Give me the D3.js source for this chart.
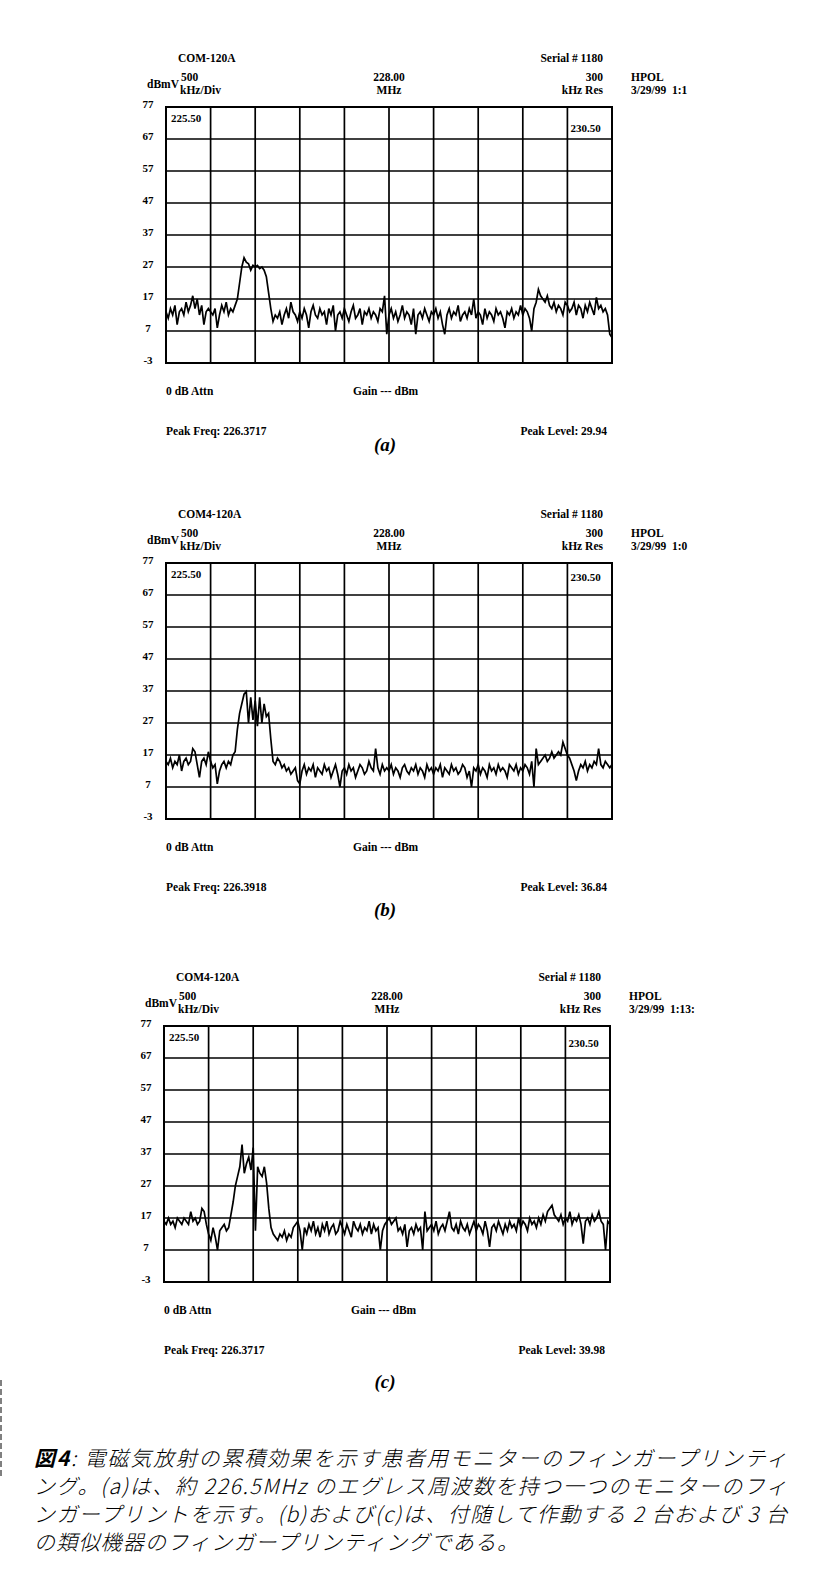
<!DOCTYPE html>
<html>
<head>
<meta charset="utf-8">
<script src="https://cdn.jsdelivr.net/npm/d3@7"></script>
<style>
  body { margin: 0; background: #fff; }
  svg { display: block; }
</style>
</head>
<body>
<svg id="fig"></svg>
<script>
// sweep settings (MHz) and level ticks (dBmV)
const freqStart = 225.5;
const freqStop = 230.5;
const freqDivs = d3.range(0, 11).map(k => freqStart + k * 0.5);
const levelTicks = [77, 67, 57, 47, 37, 27, 17, 7, -3];

// traces, 201 sweep points each
const traceA = [
  13,11,14,12,15,9,13,14,12,16,13,15,18,14,17,12,15,9,13,14,
  13,12,14,8,12,15,13,16,12,14,13,15,17,22,27,29.9,28.5,28,26,27.5,
  27,27.5,26.5,27,26,24,19,14,10,12,11,13,9,12,14,11,16,13,12,10,
  13,11,14,12,8,13,15,12,11,14,12,13,9,14,12,15,7,12,13,11,
  14,12,10,13,15,11,12,14,9,13,12,14,11,13,12,10,14,13,18,6,
  12,14,11,13,10,12,15,11,13,12,9,14,6,12,13,11,14,12,10,13,
  12,14,11,13,9,6,12,14,11,13,12,15,10,12,13,11,14,12,17,11,
  13,12,9,14,11,13,12,10,14,12,13,11,8,13,12,14,11,13,12,15,
  12,14,13,11,7,14,16,20,18,17,16,18,15,14,16,13,15,14,12,16,
  15,13,14,16,12,15,14,11,15,13,16,14,12,17.5,14,15,13,14,12,6,5
];
const traceB = [
  15,14,16,13,15,14,17,12,15,16,14,15,19,18,14,10,15,16,14,18,
  15,13,14,8,12,14,15,13,15,14,17,18,25,30,33,36,36.8,27,35,28,
  34,26,35,27,33,29,30,22,15,14,16,15,13,14,12,13,11,12,13,9,
  8,12,14,11,13,12,14,10,13,12,11,14,12,13,10,12,14,11,7,12,
  13,11,14,12,13,10,12,14,13,11,12,15,13,12,19,13,11,14,12,13,
  12,14,11,13,12,10,13,14,12,11,13,12,14,11,13,12,10,14,12,13,
  11,13,12,14,10,13,12,11,14,12,13,11,12,14,13,10,12,7,13,12,
  14,11,13,12,10,14,12,13,11,14,12,13,12,10,14,13,12,14,11,13,
  12,14,13,11,15,7,19,14,15,16,17,15,16,18,16,17,18,17,21,19,
  17,16,14,12,9,12,14,13,15,12,14,13,15,14,19,14,13,15,14,13,14
];
const traceC = [
  16,15,17,15,16,14,17,16,15,17,16,15,19,16,17,15,16,20,19,15,
  12,10,14,11,7,13,14,15,13,14,18,22,27,30,33,39.98,31,34,36,32,
  39,13,33,31,30,33,28,20,14,12,11,10,12,11,13,10,12,11,14,15,
  16,13,7,14,12,15,13,16,12,14,11,15,13,16,12,14,15,12,13,16,
  14,12,15,13,11,16,14,13,15,12,14,13,16,12,15,13,14,7,13,15,
  16,17,15,16,17,13,14,12,15,8,13,14,12,15,13,14,7,19,13,14,
  15,13,16,12,14,15,13,16,19,14,13,15,12,16,14,13,15,12,14,16,
  13,15,14,12,16,13,8,14,15,13,16,14,12,15,13,16,14,15,13,17,
  14,16,15,13,17,15,16,14,17,15,18,16,19,20,21,18,17,16,18,15,
  17,16,19,15,17,16,18,15,9,16,17,15,18,16,17,19,16,15,7,16,15
];

// header / footer texts per panel
const panelNames = ['(a)', '(b)', '(c)'];
const models = ['COM-120A', 'COM4-120A', 'COM4-120A'];
const timeStamps = ['3/29/99  1:1', '3/29/99  1:0', '3/29/99  1:13:'];
const peakFreqs = ['226.3717', '226.3918', '226.3717'];
const peakLevels = ['29.94', '36.84', '39.98'];
const traces = [traceA, traceB, traceC];

const captionLines = [
  '電磁気放射の累積効果を示す患者用モニターのフィンガープリンティ',
  'ング。(a)は、約 226.5MHz のエグレス周波数を持つ一つのモニターのフィ',
  'ンガープリントを示す。(b)および(c)は、付随して作動する 2 台および 3 台',
  'の類似機器のフィンガープリンティングである。'
];

const width = 817;
const height = 1593;
const plotW = 446;
const plotH = 256;
const panelTops = [107, 563, 1026];
const panelLefts = [166, 166, 164];
const labelYs = [451, 916, 1388];
const stopLabelDy = [25, 18, 21];

const svg = d3.select('#fig')
  .attr('width', width)
  .attr('height', height)
  .style('font-family', '"Liberation Serif", serif')
  .style('font-weight', 'bold');

svg.append('rect').attr('width', width).attr('height', height).attr('fill', '#fff');

const x = d3.scaleLinear().domain([freqStart, freqStop]).range([0, plotW]);
const y = d3.scaleLinear().domain([-3, 77]).range([plotH, 0]);

traces.forEach((trace, p) => {
  const g = svg.append('g')
    .attr('transform', `translate(${panelLefts[p]},${panelTops[p]})`);
  const step = (freqStop - freqStart) / (trace.length - 1);

  // header block
  const head = g.append('g').attr('font-size', 11.5).attr('fill', '#000');
  head.append('text').attr('x', 12).attr('y', -45).text(models[p]);
  head.append('text').attr('x', 437).attr('y', -45).attr('text-anchor', 'end').text('Serial # 1180');
  head.append('text').attr('x', 15).attr('y', -26).text('500');
  head.append('text').attr('x', 14).attr('y', -13).text('kHz/Div');
  head.append('text').attr('x', -19).attr('y', -19).text('dBmV');
  head.append('text').attr('x', x(228)).attr('y', -26).attr('text-anchor', 'middle').text('228.00');
  head.append('text').attr('x', x(228)).attr('y', -13).attr('text-anchor', 'middle').text('MHz');
  head.append('text').attr('x', 437).attr('y', -26).attr('text-anchor', 'end').text('300');
  head.append('text').attr('x', 437).attr('y', -13).attr('text-anchor', 'end').text('kHz Res');
  head.append('text').attr('x', 465).attr('y', -26).text('HPOL');
  head.append('text').attr('x', 465).attr('y', -13).style('white-space', 'pre').text(timeStamps[p]);

  // level axis labels
  g.append('g').attr('font-size', 11)
    .selectAll('text')
    .data(levelTicks)
    .join('text')
    .attr('x', -18)
    .attr('y', d => y(d) + 1)
    .attr('text-anchor', 'middle')
    .text(d => d);

  // grid
  g.append('g')
    .selectAll('line.v')
    .data(freqDivs)
    .join('line')
    .attr('x1', d => x(d)).attr('x2', d => x(d))
    .attr('y1', 0).attr('y2', plotH)
    .attr('stroke', '#000').attr('stroke-width', 1.7);
  g.append('g')
    .selectAll('line.h')
    .data(levelTicks)
    .join('line')
    .attr('x1', 0).attr('x2', plotW)
    .attr('y1', d => y(d)).attr('y2', d => y(d))
    .attr('stroke', '#000').attr('stroke-width', 1.7);
  g.append('rect')
    .attr('width', plotW).attr('height', plotH)
    .attr('fill', 'none').attr('stroke', '#000').attr('stroke-width', 2);

  // start / stop frequency labels
  g.append('text').attr('font-size', 11).attr('x', 5).attr('y', 15).text(freqStart.toFixed(2));
  g.append('text').attr('font-size', 11).attr('x', x(230) + 3).attr('y', stopLabelDy[p]).text(freqStop.toFixed(2));

  // spectrum trace
  const line = d3.line()
    .x((d, i) => x(freqStart + i * step))
    .y(d => y(d));
  g.append('path')
    .datum(trace)
    .attr('d', line)
    .attr('fill', 'none')
    .attr('stroke', '#000')
    .attr('stroke-width', 1.7)
    .attr('stroke-linejoin', 'miter');

  // footer
  const foot = g.append('g').attr('font-size', 11.5);
  foot.append('text').attr('x', 0).attr('y', plotH + 32).text('0 dB Attn');
  foot.append('text').attr('x', 187).attr('y', plotH + 32).text('Gain --- dBm');
  foot.append('text').attr('x', 0).attr('y', plotH + 72).text('Peak Freq: ' + peakFreqs[p]);
  foot.append('text').attr('x', 441).attr('y', plotH + 72).attr('text-anchor', 'end').text('Peak Level: ' + peakLevels[p]);

  svg.append('text')
    .attr('x', 385)
    .attr('y', labelYs[p])
    .attr('text-anchor', 'middle')
    .attr('font-size', 19)
    .attr('font-style', 'italic')
    .text(panelNames[p]);
});

// caption
const cap = svg.append('g')
  .style('font-family', '"Noto Sans CJK JP", sans-serif')
  .style('font-weight', 300)
  .style('font-style', 'italic')
  .attr('font-size', 21)
  .attr('fill', '#000');

captionLines.forEach((txt, i) => {
  const t = cap.append('text')
    .attr('x', 34)
    .attr('y', 1466 + i * 28);
  if (i === 0) {
    t.append('tspan').style('font-weight', 'bold').text('図4');
    t.append('tspan').text(': ' + txt);
  } else {
    t.text(txt);
  }
  if (i < 3) {
    t.attr('textLength', 753).attr('lengthAdjust', 'spacing');
  } else {
    t.attr('letter-spacing', 1.2);
  }
});

// scan edge mark on the left
svg.append('line')
  .attr('x1', 1).attr('x2', 1)
  .attr('y1', 1380).attr('y2', 1477)
  .attr('stroke', '#000')
  .attr('stroke-width', 1)
  .attr('stroke-dasharray', '6,3');
</script>
</body>
</html>
